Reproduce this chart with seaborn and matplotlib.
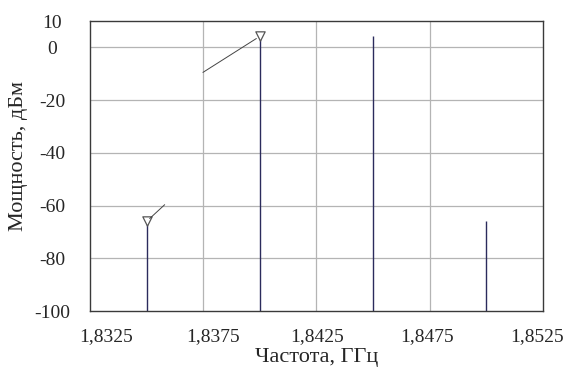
import matplotlib
matplotlib.use("Agg")
import matplotlib.pyplot as plt
import matplotlib.transforms as mtrans
import seaborn as sns
import pandas as pd

# spectrum lines
freq_ghz = [1.835, 1.840, 1.845, 1.850]
power_dbm = [-66, 4.2, 4.2, -66]
marked = [True, True, False, False]

x_ticks = [1.8325, 1.8375, 1.8425, 1.8475, 1.8525]
x_tick_labels = ["1,8325", "1,8375", "1,8425", "1,8475", "1,8525"]
y_ticks = [10, 0, -20, -40, -60, -80, -100]
y_tick_labels = ["10", "0", "-20", "-40", "-60", "-80", "-100"]

df = pd.DataFrame({"freq": freq_ghz, "power": power_dbm, "marked": marked})

sns.set_style("white")
plt.rcParams["font.family"] = ["Liberation Serif", "DejaVu Serif"]

fig = plt.figure(figsize=(5.68, 3.67), dpi=100)
ax = fig.add_axes([90 / 568, 1 - 311 / 367, 453 / 568, 290 / 367])

# grid
ax.set_xticks(x_ticks)
ax.set_yticks(y_ticks)
for x in x_ticks[1:-1]:
    ax.axvline(x, color="#b4b4b4", lw=0.9, zorder=0)
for y in y_ticks[1:-1]:
    ax.axhline(y, color="#b4b4b4", lw=0.9, zorder=0)

# stems from the bottom of the plot
ax.vlines(df["freq"], -100, df["power"], color="#2b2b5c", lw=1.0, zorder=2)

# marker triangles on the two measured peaks
m = df[df["marked"]]
sns.scatterplot(data=m, x="freq", y="power", marker="v", s=45,
                facecolor="white", edgecolor="#555555", linewidth=0.9,
                zorder=3, ax=ax, legend=False)

# leader lines of the marker labels
offsets = [(13, 12), (-41, -26)]
for (_, r), off in zip(m.iterrows(), offsets):
    ax.annotate("", xy=(r["freq"], r["power"]), xytext=off,
                textcoords="offset points",
                arrowprops=dict(arrowstyle="-", color="#444444", lw=0.7,
                                shrinkA=0, shrinkB=3))

ax.set_xlim(1.8325, 1.8525)
ax.set_ylim(-100, 10)
ax.set_xticklabels(x_tick_labels, fontsize=14)
ax.set_yticklabels(y_tick_labels, fontsize=14, ha="center")
ax.tick_params(axis="y", length=0, pad=27)
ax.tick_params(axis="x", length=0, pad=12.5)

# labels are spread a bit narrower than the ticks in the original
shift_px = [16, 10, 1, -3, -6]
for lab, dx in zip(ax.get_xticklabels(), shift_px):
    lab.set_transform(lab.get_transform() +
                      mtrans.ScaledTranslation(dx / 100, 0, fig.dpi_scale_trans))

for s in ax.spines.values():
    s.set_color("#3a3a3a")
    s.set_linewidth(1.0)

ax.set_xlabel("Частота, ГГц", fontsize=16, labelpad=2)
ax.set_ylabel("Мощность, дБм", fontsize=16)
ax.yaxis.set_label_coords(-0.137, 0.534)

fig.savefig("out.png", dpi=100)
